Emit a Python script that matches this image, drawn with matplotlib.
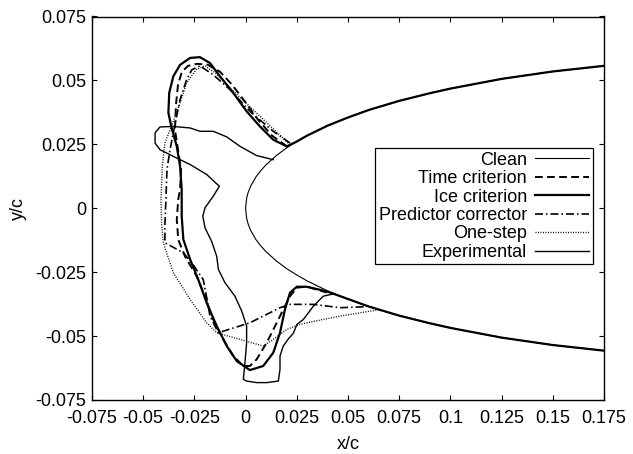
import numpy as np
import matplotlib
matplotlib.use("Agg")
import matplotlib.pyplot as plt

plt.rcParams['font.family'] = ['Liberation Sans', 'DejaVu Sans']
plt.rcParams['font.size'] = 13

# ---------------- data ----------------
clean_x = np.array([0.0, 0.0005, 0.00125, 0.0025, 0.005, 0.0075, 0.01, 0.015, 0.02,
                    0.025, 0.03, 0.04, 0.05, 0.06, 0.075, 0.09, 0.1, 0.125, 0.15, 0.175])
clean_y = np.array([0.0, 0.0039, 0.0062, 0.0087, 0.0122, 0.0148, 0.0170, 0.0206, 0.0236,
                    0.0261, 0.0284, 0.0323, 0.0355, 0.0384, 0.0420, 0.0450, 0.0468, 0.0506,
                    0.0535, 0.0557])

time_x = [0.0202, 0.0129, 0.0061, -0.0003, -0.0066, -0.0125, -0.0184, -0.0237, -0.0281,
          -0.0311, -0.0330, -0.0340, -0.0345, -0.0330, -0.0315, -0.0320, -0.0329, -0.0336,
          -0.0329, -0.0296, -0.0239, -0.0198, -0.0166, -0.0109, -0.0060, -0.0011, 0.0021,
          0.0054, 0.0103, 0.0152, 0.0184, 0.0217, 0.0250, 0.0298, 0.0396]
time_y = [0.0242, 0.0284, 0.0346, 0.0417, 0.0483, 0.0534, 0.0561, 0.0565, 0.0557,
          0.0534, 0.0483, 0.0405, 0.0307, 0.0229, 0.0151, 0.0073, 0.0034, -0.0044,
          -0.0122, -0.0188, -0.0266, -0.0344, -0.0422, -0.0513, -0.0578, -0.0617, -0.0617,
          -0.0591, -0.0526, -0.0448, -0.0396, -0.0344, -0.0311, -0.0306, -0.0330]

ice_x = [0.0201, 0.0135, 0.0070, 0.0005, -0.0060, -0.0125, -0.0174, -0.0223, -0.0271,
         -0.0320, -0.0353, -0.0373, -0.0377, -0.0361, -0.0336, -0.0320, -0.0312, -0.0312,
         -0.0304, -0.0271, -0.0231, -0.0190, -0.0141, -0.0092, -0.0043, 0.0021, 0.0086,
         0.0135, 0.0168, 0.0192, 0.0217, 0.0250, 0.0298, 0.0396]
ice_y = [0.0242, 0.0268, 0.0320, 0.0379, 0.0451, 0.0516, 0.0568, 0.0591, 0.0588,
         0.0561, 0.0516, 0.0451, 0.0373, 0.0314, 0.0242, 0.0164, 0.0073, -0.0031,
         -0.0122, -0.0200, -0.0279, -0.0370, -0.0461, -0.0539, -0.0598, -0.0633, -0.0617,
         -0.0565, -0.0487, -0.0396, -0.0330, -0.0307, -0.0307, -0.0325]

pc_x = [0.0217, 0.0135, 0.0021, -0.0076, -0.0158, -0.0223, -0.0262, -0.0288, -0.0320,
        -0.0345, -0.0369, -0.0384, -0.0389, -0.0394, -0.0394, -0.0304, -0.0257, -0.0207,
        -0.0188, -0.0174, -0.0133, 0.0021, 0.0168, 0.0217, 0.0331, 0.0461, 0.0591]
pc_y = [0.0255, 0.0301, 0.0379, 0.0464, 0.0522, 0.0557, 0.0542, 0.0503, 0.0425,
        0.0327, 0.0229, 0.0151, 0.0034, -0.0064, -0.0135, -0.0174, -0.0220, -0.0279,
        -0.0357, -0.0422, -0.0487, -0.0448, -0.0389, -0.0376, -0.0376, -0.0389, -0.0385]

one_x = [0.0208, 0.0119, 0.0021, -0.0076, -0.0149, -0.0198, -0.0242, -0.0288, -0.0320,
         -0.0359, -0.0394, -0.0407, -0.0413, -0.0410, -0.0402, -0.0353, -0.0271, -0.0190,
         -0.0141, -0.0027, 0.0086, 0.0135, 0.0201, 0.0266, 0.0379, 0.0461, 0.0656]
one_y = [0.0255, 0.0323, 0.0397, 0.0471, 0.0530, 0.0557, 0.0542, 0.0490, 0.0412,
         0.0327, 0.0255, 0.0164, 0.0034, -0.0064, -0.0135, -0.0252, -0.0357, -0.0448,
         -0.0487, -0.0513, -0.0539, -0.0513, -0.0474, -0.0454, -0.0435, -0.0422, -0.0396]

exp_x = [0.0135, 0.0054, -0.0027, -0.0092, -0.0158, -0.0223, -0.0271, -0.0353, -0.0418,
         -0.0442, -0.0442, -0.0418, -0.0353, -0.0271, -0.0190, -0.0128, -0.0158, -0.0198,
         -0.0209, -0.0198, -0.0166, -0.0141, -0.0133, -0.0101, -0.0052, -0.0019, 0.0005,
         0.0005, -0.0003, -0.0011, 0.0005, 0.0054, 0.0103, 0.0160, 0.0168, 0.0168, 0.0184,
         0.0207, 0.0233, 0.0251, 0.0282, 0.0331, 0.0379, 0.0428]
exp_y = [0.0190, 0.0206, 0.0242, 0.0279, 0.0301, 0.0301, 0.0314, 0.0320, 0.0318,
         0.0295, 0.0255, 0.0229, 0.0203, 0.0171, 0.0132, 0.0086, 0.0047, 0.0002,
         -0.0031, -0.0077, -0.0129, -0.0188, -0.0239, -0.0291, -0.0344, -0.0402, -0.0461,
         -0.0526, -0.0604, -0.0669, -0.0676, -0.0682, -0.0682, -0.0676, -0.0630, -0.0578,
         -0.0539, -0.0513, -0.0489, -0.0454, -0.0435, -0.0383, -0.0344, -0.0335]

labels = ["Clean", "Time criterion", "Ice criterion", "Predictor corrector",
          "One-step", "Experimental"]
xticks = [-0.075, -0.05, -0.025, 0, 0.025, 0.05, 0.075, 0.1, 0.125, 0.15, 0.175]
xtick_labels = ["-0.075", "-0.05", "-0.025", "0", "0.025", "0.05", "0.075", "0.1",
                "0.125", "0.15", "0.175"]
yticks = [-0.075, -0.05, -0.025, 0, 0.025, 0.05, 0.075]
ytick_labels = ["-0.075", "-0.05", "-0.025", "0", "0.025", "0.05", "0.075"]

# ---------------- figure ----------------
fig = plt.figure(figsize=(6.33, 4.54), dpi=100)
ax = fig.add_axes([92 / 633, (454 - 400) / 454, 512 / 633, 383.5 / 454])

# clean airfoil (full contour)
cx = np.concatenate([clean_x[::-1], clean_x[1:]])
cy = np.concatenate([clean_y[::-1], -clean_y[1:]])

# ice criterion joined to the airfoil surface downstream of the ice
up = clean_x > ice_x[0] + 0.001
lo = clean_x > ice_x[-1] + 0.001
ix = np.concatenate([clean_x[up][::-1], ice_x, clean_x[lo]])
iy = np.concatenate([clean_y[up][::-1], ice_y, -clean_y[lo]])

ax.plot(cx, cy, color='black', lw=0.8, label=labels[0])
ax.plot(time_x, time_y, color='black', lw=1.4, dashes=(4, 2.2), label=labels[1])
ax.plot(ix, iy, color='black', lw=1.6, label=labels[2])
ax.plot(pc_x, pc_y, color='black', lw=1.2, dashes=(4.8, 1.8, 0.9, 1.8), label=labels[3])
ax.plot(one_x, one_y, color='black', lw=1.0, dashes=(0.7, 1.1), label=labels[4])
ax.plot(exp_x, exp_y, color='black', lw=1.0, label=labels[5])

ax.set_xlim(-0.075, 0.175)
ax.set_ylim(-0.075, 0.075)
ax.set_xticks(xticks)
ax.set_xticklabels(xtick_labels)
ax.set_yticks(yticks)
ax.set_yticklabels(ytick_labels)
ax.tick_params(direction='in', length=3.5, width=0.8, top=True, right=True,
               labelsize=13, colors='black')
ax.tick_params(axis='x', pad=7.5)
ax.tick_params(axis='y', pad=4)
for s in ax.spines.values():
    s.set_linewidth(1.0)

ax.set_xlabel("x/c", fontsize=13, labelpad=6)
ax.set_ylabel("y/c", fontsize=13, labelpad=6)

leg = ax.legend(loc='upper right', bbox_to_anchor=((593 - 92) / 512, (400 - 148) / 383.5),
                borderaxespad=0, markerfirst=False, fancybox=False, framealpha=1,
                edgecolor='black', fontsize=13, labelspacing=0.08, borderpad=0.2,
                handlelength=3.0, handletextpad=0.45)
leg.get_frame().set_linewidth(0.9)

fig.savefig("out.png", dpi=100)
